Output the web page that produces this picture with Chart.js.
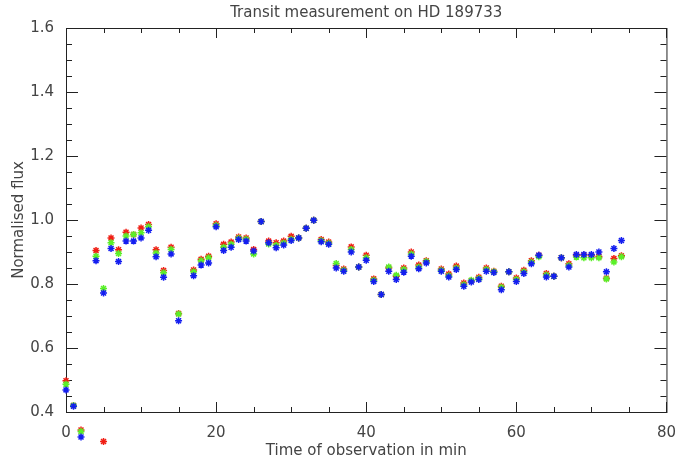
<!DOCTYPE html>
<html>
<head>
<meta charset="utf-8">
<script src="https://cdn.jsdelivr.net/npm/chart.js@4.4.1/dist/chart.umd.min.js"></script>
<style>
  body { margin: 0; background: #fff; }
  #wrap { width: 680px; height: 462px; }
</style>
</head>
<body>
<div id="wrap"><canvas id="transitChart"></canvas></div>
<script>
/* dados */
const tempos = [0, 1, 2, 4, 5, 6, 7, 8, 9, 10, 11, 12, 13, 14, 15, 17, 18, 19, 20, 21, 22, 23, 24, 25,
  26, 27, 28, 29, 30, 31, 32, 33, 34, 35, 36, 37, 38, 39, 40, 41, 42, 43, 44, 45, 46, 47, 48,
  50, 51, 52, 53, 54, 55, 56, 57, 58, 59, 60, 61, 62, 63, 64, 65, 66, 67, 68, 69, 70, 71, 72, 73, 74];

const fluxoVermelho = [0.498, 0.420, 0.344, 0.905, 0.308, 0.944, 0.907, 0.962, 0.955, 0.975, 0.986, 0.907, 0.842, 0.915, 0.708,
  0.844, 0.877, 0.887, 0.988, 0.924, 0.931, 0.947, 0.944, 0.908,
  0.995, 0.934, 0.929, 0.934, 0.949, 0.944, 0.974, 0.999, 0.939, 0.931, 0.858, 0.847, 0.916, 0.853, 0.890, 0.816, 0.767, 0.850,
  0.824, 0.850, 0.900, 0.859, 0.873,
  0.847, 0.831, 0.856, 0.803, 0.810, 0.821, 0.850, 0.840, 0.793, 0.838, 0.819, 0.843, 0.873, 0.890, 0.833, 0.824, 0.882, 0.863,
  0.890, 0.890, 0.888, 0.886, 0.818, 0.880, 0.888];

const fluxoVerde = [0.487, 0.420, 0.339, 0.887, 0.786, 0.929, 0.895, 0.950, 0.955, 0.960, 0.979, 0.897, 0.835, 0.908, 0.706,
  0.838, 0.873, 0.882, 0.983, 0.915, 0.924, 0.943, 0.940, 0.894,
  0.995, 0.925, 0.921, 0.928, 0.940, 0.944, 0.974, 0.999, 0.935, 0.927, 0.864, 0.843, 0.908, 0.853, 0.882, 0.812, 0.767, 0.853,
  0.827, 0.845, 0.894, 0.853, 0.870,
  0.843, 0.826, 0.850, 0.798, 0.812, 0.817, 0.845, 0.838, 0.790, 0.838, 0.814, 0.838, 0.868, 0.885, 0.828, 0.824, 0.882, 0.858,
  0.884, 0.882, 0.882, 0.882, 0.816, 0.869, 0.885];

const fluxoAzul = [0.469, 0.418, 0.322, 0.873, 0.772, 0.911, 0.870, 0.934, 0.934, 0.944, 0.968, 0.885, 0.821, 0.894, 0.685,
  0.826, 0.859, 0.866, 0.979, 0.905, 0.915, 0.939, 0.934, 0.903,
  0.995, 0.929, 0.913, 0.922, 0.936, 0.944, 0.974, 0.999, 0.932, 0.924, 0.850, 0.840, 0.900, 0.853, 0.874, 0.808, 0.767, 0.840,
  0.814, 0.837, 0.887, 0.848, 0.866,
  0.840, 0.822, 0.845, 0.793, 0.806, 0.814, 0.840, 0.836, 0.782, 0.838, 0.808, 0.833, 0.863, 0.890, 0.822, 0.824, 0.882, 0.853,
  0.892, 0.892, 0.892, 0.900, 0.838, 0.911, 0.936];

/* marcas dos eixos */
const xTicksMaiores = [0, 20, 40, 60, 80];
const xTicksMenores = [5, 10, 15, 25, 30, 35, 45, 50, 55, 65, 70, 75];
const yTicksMaiores = [0.4, 0.6, 0.8, 1.0, 1.2, 1.4, 1.6];
const yTicksMenores = [0.45, 0.5, 0.55, 0.65, 0.7, 0.75, 0.85, 0.9, 0.95, 1.05, 1.1, 1.15,
  1.25, 1.3, 1.35, 1.45, 1.5, 1.55];

const pontos = (ys) => tempos.map((t, i) => ({ x: t, y: ys[i] }));

// moldura estilo IDL com marcas para dentro
const moldura = {
  id: 'moldura',
  beforeDatasetsDraw(chart) {
    const { ctx, chartArea: a, scales } = chart;
    ctx.save();
    ctx.strokeStyle = '#222';
    ctx.lineWidth = 1;
    ctx.strokeRect(a.left + 0.5, a.top + 0.5, a.right - a.left, a.bottom - a.top);
    ctx.beginPath();
    const marcaX = (v, len) => {
      const px = Math.round(scales.x.getPixelForValue(v)) + 0.5;
      ctx.moveTo(px, a.bottom); ctx.lineTo(px, a.bottom - len);
      ctx.moveTo(px, a.top); ctx.lineTo(px, a.top + len);
    };
    const marcaY = (v, len) => {
      const py = Math.round(scales.y.getPixelForValue(v)) + 0.5;
      ctx.moveTo(a.left, py); ctx.lineTo(a.left + len, py);
      ctx.moveTo(a.right, py); ctx.lineTo(a.right - len, py);
    };
    xTicksMaiores.forEach(v => marcaX(v, 10));
    xTicksMenores.forEach(v => marcaX(v, 5));
    yTicksMaiores.forEach(v => marcaY(v, 12));
    yTicksMenores.forEach(v => marcaY(v, 6));
    ctx.stroke();
    ctx.restore();
  },
  // pontos abaixo de 0.4 ficam fora da area, como no original (sem recorte)
  afterDatasetsDraw(chart) {
    const { ctx, chartArea: a } = chart;
    chart.getSortedVisibleDatasetMetas().slice().reverse().forEach(meta => {
      meta.data.forEach(el => {
        if (el.y > a.bottom || el.y < a.top) el.draw(ctx);
      });
    });
  }
};

const fonte = { family: 'DejaVu Sans', size: 15 };
const corTexto = '#444';

const serie = (dados, cor, ordem) => ({
  data: pontos(dados),
  borderColor: cor,
  backgroundColor: cor,
  pointStyle: 'star',
  pointRadius: 3.5,
  pointBorderWidth: 1.5,
  showLine: false,
  clip: false,
  order: ordem
});

new Chart(document.getElementById('transitChart'), {
  type: 'scatter',
  data: {
    datasets: [
      serie(fluxoVermelho, 'rgb(240,30,20)', 3),
      serie(fluxoVerde, 'rgb(90,240,40)', 2),
      serie(fluxoAzul, 'rgb(20,30,240)', 1)
    ]
  },
  options: {
    responsive: true,
    maintainAspectRatio: false,
    animation: false,
    layout: { padding: { left: 0, right: 11, top: 0, bottom: 0 } },
    scales: {
      x: {
        type: 'linear',
        min: 0,
        max: 80,
        grid: { display: false },
        border: { display: false },
        ticks: { stepSize: 20, font: fonte, color: corTexto, padding: 4, maxRotation: 0 },
        title: { display: true, text: 'Time of observation in min', font: fonte, color: corTexto, padding: { top: 0, bottom: 2 } },
        afterFit: (s) => { s.height = 50; }
      },
      y: {
        min: 0.4,
        max: 1.6,
        grid: { display: false },
        border: { display: false },
        ticks: {
          stepSize: 0.2,
          font: fonte,
          color: corTexto,
          padding: 4,
          callback: (v) => Number(v).toFixed(1)
        },
        title: { display: true, text: 'Normalised flux', font: fonte, color: corTexto, padding: { top: 10, bottom: 0 } },
        afterFit: (s) => { s.width = 66; }
      }
    },
    plugins: {
      legend: { display: false },
      tooltip: { enabled: false },
      title: {
        display: true,
        fullSize: false,
        text: 'Transit measurement on HD 189733',
        font: { family: 'DejaVu Sans', size: 15, weight: 'normal' },
        color: corTexto,
        padding: { top: 4, bottom: 6 }
      }
    }
  },
  plugins: [moldura]
});
</script>
</body>
</html>
